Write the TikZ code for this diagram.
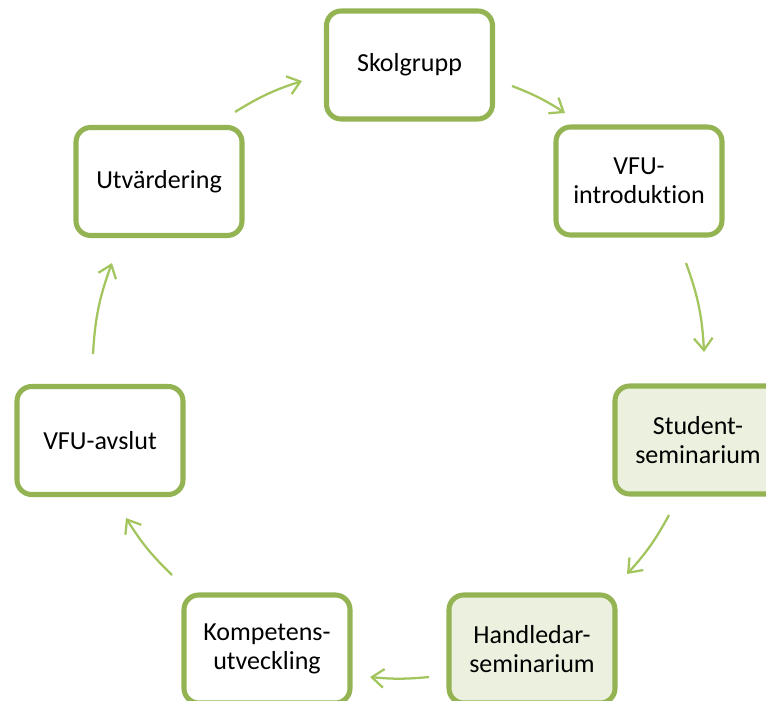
\documentclass[tikz,border=0pt]{standalone}
\usepackage{fontspec}
\setmainfont{Carlito}[Ligatures={NoCommon}]
\usetikzlibrary{arrows.meta}
\definecolor{boxline}{HTML}{94B454}
\definecolor{boxfill}{HTML}{EBF1DE}
\definecolor{arrowcol}{HTML}{A3C55E}
\begin{document}
\begin{tikzpicture}[x=0.75pt,y=0.75pt,
  stepbox/.style={draw=boxline, line width=3.8pt, rounded corners=11pt, fill=white,
    minimum width=124.5pt, minimum height=81pt, inner sep=0pt, align=center,
    font=\fontsize{19.5}{22}\selectfont},
  shaded/.style={fill=boxfill},
  cyc/.style={draw=arrowcol, line width=1.7pt, -{Straight Barb[length=9pt,width=14pt,line width=1.7pt]}}]
\useasboundingbox (0,0) rectangle (766,700);
\clip (0,0) rectangle (766,700);
\node[stepbox] (skol) at (409.5,635) {Skolgrupp};
\node[stepbox] (intro) at (639,519) {VFU-\\introduktion};
\node[stepbox, shaded] (stud) at (698,260) {Student-\\seminarium};
\node[stepbox, shaded] (handl) at (532,51) {Handledar-\\seminarium};
\node[stepbox] (komp) at (267,51) {Kompetens-\\utveckling};
\node[stepbox] (avsl) at (100,259.5) {VFU-avslut};
\node[stepbox] (utv) at (159,518.5) {Utvärdering};
\coordinate (a1s) at (512,614); \coordinate (a1e) at (565,587);
\coordinate (a2s) at (686,437); \coordinate (a2e) at (704,348);
\coordinate (a3s) at (669,185); \coordinate (a3e) at (627,126);
\coordinate (a4s) at (429,23);  \coordinate (a4e) at (370,23);
\coordinate (a5s) at (172,125); \coordinate (a5e) at (126,182);
\coordinate (a6s) at (93,346);  \coordinate (a6e) at (112,437);
\coordinate (a7s) at (235,588); \coordinate (a7e) at (302,619);
\draw[cyc] (a1s) to[bend left=6] (a1e);
\draw[cyc] (a2s) to[bend left=8.5] (a2e);
\draw[cyc] (a3s) to[bend left=7] (a3e);
\draw[cyc] (a4s) to[bend left=5.5] (a4e);
\draw[cyc] (a5s) to[bend left=7] (a5e);
\draw[cyc] (a6s) to[bend left=8.5] (a6e);
\draw[cyc] (a7s) to[bend left=7] (a7e);
\end{tikzpicture}
\end{document}
